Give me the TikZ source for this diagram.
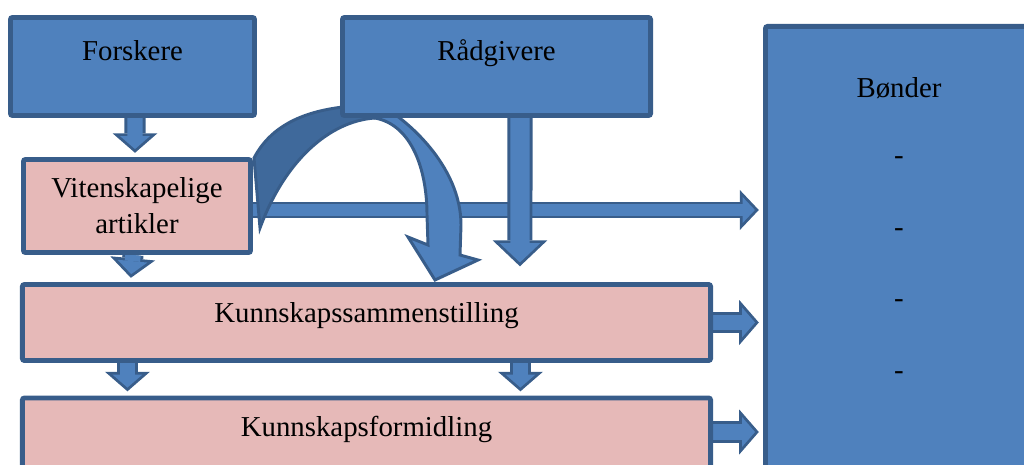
\documentclass[tikz,border=0pt]{standalone}
\usepackage{fontspec}
\setmainfont{Liberation Serif}
\usetikzlibrary{arrows.meta,positioning,backgrounds,calc}
\definecolor{boxblue}{RGB}{79,129,189}
\definecolor{lineblue}{RGB}{56,93,138}
\definecolor{backblue}{RGB}{63,105,155}
\definecolor{pinkfill}{RGB}{230,185,184}
\tikzset{
    %Define style for boxes
    actor/.style={
           rectangle,
           rounded corners=1.5pt,
           draw=lineblue, line width=3.5pt,
           fill=boxblue,
           inner sep=0pt,
           font=\fontsize{20.5pt}{25.6pt}\selectfont,
           align=center},
    stage/.style={actor, fill=pinkfill},
    high/.style={text height=14pt, text depth=23.2pt},
    flat/.style={text height=14pt, text depth=14pt},
    % Define block arrow styles
    blk/.style={
           preaction={draw=lineblue, line width=15pt, shorten >=3pt,
                      -{Triangle[width=32pt,length=13.9pt,line width=0pt]}},
           draw=boxblue, line width=11pt, shorten >=5.65pt,
           -{Triangle[width=21.3pt,length=9.25pt,line width=0pt]}},
    wideblk/.style={
           preaction={draw=lineblue, line width=17.8pt, shorten >=3pt,
                      -{Triangle[width=39pt,length=18.5pt,line width=0pt]}},
           draw=boxblue, line width=13.8pt, shorten >=5.76pt,
           -{Triangle[width=29pt,length=13.74pt,line width=0pt]}},
    thinblk/.style={
           preaction={draw=lineblue, line width=12pt, shorten >=3pt,
                      -{Triangle[width=28.5pt,length=13.5pt,line width=0pt]}},
           draw=boxblue, line width=8pt, shorten >=5.75pt,
           -{Triangle[width=18.5pt,length=8.75pt,line width=0pt]}},
    curl/.style={draw=lineblue, line width=2.1pt, line join=miter}
}
\begin{document}
\begin{tikzpicture}[x=0.025cm, y=-0.025cm]
\useasboundingbox (0,0) rectangle (1024,465);
 %nodes
\node[actor, high, minimum width=6.1cm, minimum height=2.45cm] (forsk) at (132.5,66.5) {Forskere};
\node[actor, high, minimum width=7.7cm, minimum height=2.45cm] (raad) at (496.5,66.5) {Rådgivere};
\node[actor, anchor=north west, minimum width=6.675cm, minimum height=12cm] (bonder) at (763,24) {};
\node[inner sep=0pt, align=center, font=\fontsize{20.5pt}{50.9pt}\selectfont,
  below=1.325cm of bonder.north] (bondtxt) {Bønder\\[-2.9pt]-\\-\\-\\-};
\node[stage, minimum width=5.675cm, minimum height=2.325cm] (art) at (137,206) {Vitenskapelige\\artikler};
\node[stage, flat, minimum width=17.2cm, minimum height=1.9cm] (kunn) at (366.5,322.5) {Kunnskapssammenstilling};
\node[stage, flat, minimum width=17.2cm, minimum height=1.9cm] (form) at (366.5,436) {Kunnskapsformidling};
 %arrows
\begin{pgfonlayer}{background}
\draw[thinblk] ($(art.east)+(0,4)$) -- ($(art.east -| bonder.west)+(0,4)$);
\draw[wideblk] ($(raad.south west)+(180,0)$) -- ($(kunn.north west)+(500,-11.5)$);
% curved arrow
\filldraw[curl, fill=backblue] (254,158) .. controls (275,118) and (320,105) .. (380,105)
  -- (375,118) .. controls (330,121) and (285,160) .. (260,228) -- cycle;
\filldraw[curl, fill=boxblue] (380,105) .. controls (405,118) and (461,165) .. (461,225)
  -- (460,255) -- (478,260) -- (435,280) -- (408,237) -- (428,245) -- (427,215)
  .. controls (427,170) and (412,125) .. (375,118) -- cycle;
\draw[blk] ($(forsk.south)+(2.5,0)$) -- ($(art.north)+(-2,0)$);
\draw[blk] ($(art.south)+(-4,0)$) -- ($(kunn.north west)+(110.5,0)$);
\draw[blk] ($(kunn.south west)+(107.5,0)$) -- ($(form.north west)+(107.5,0)$);
\draw[blk] ($(kunn.south west)+(500.5,0)$) -- ($(form.north west)+(500.5,0)$);
\draw[blk] (kunn.east) -- (kunn.east -| bonder.west);
\draw[blk] ($(form.east)+(0,-4)$) -- ($(form.east -| bonder.west)+(0,-4)$);
\end{pgfonlayer}
\end{tikzpicture}
\end{document}
